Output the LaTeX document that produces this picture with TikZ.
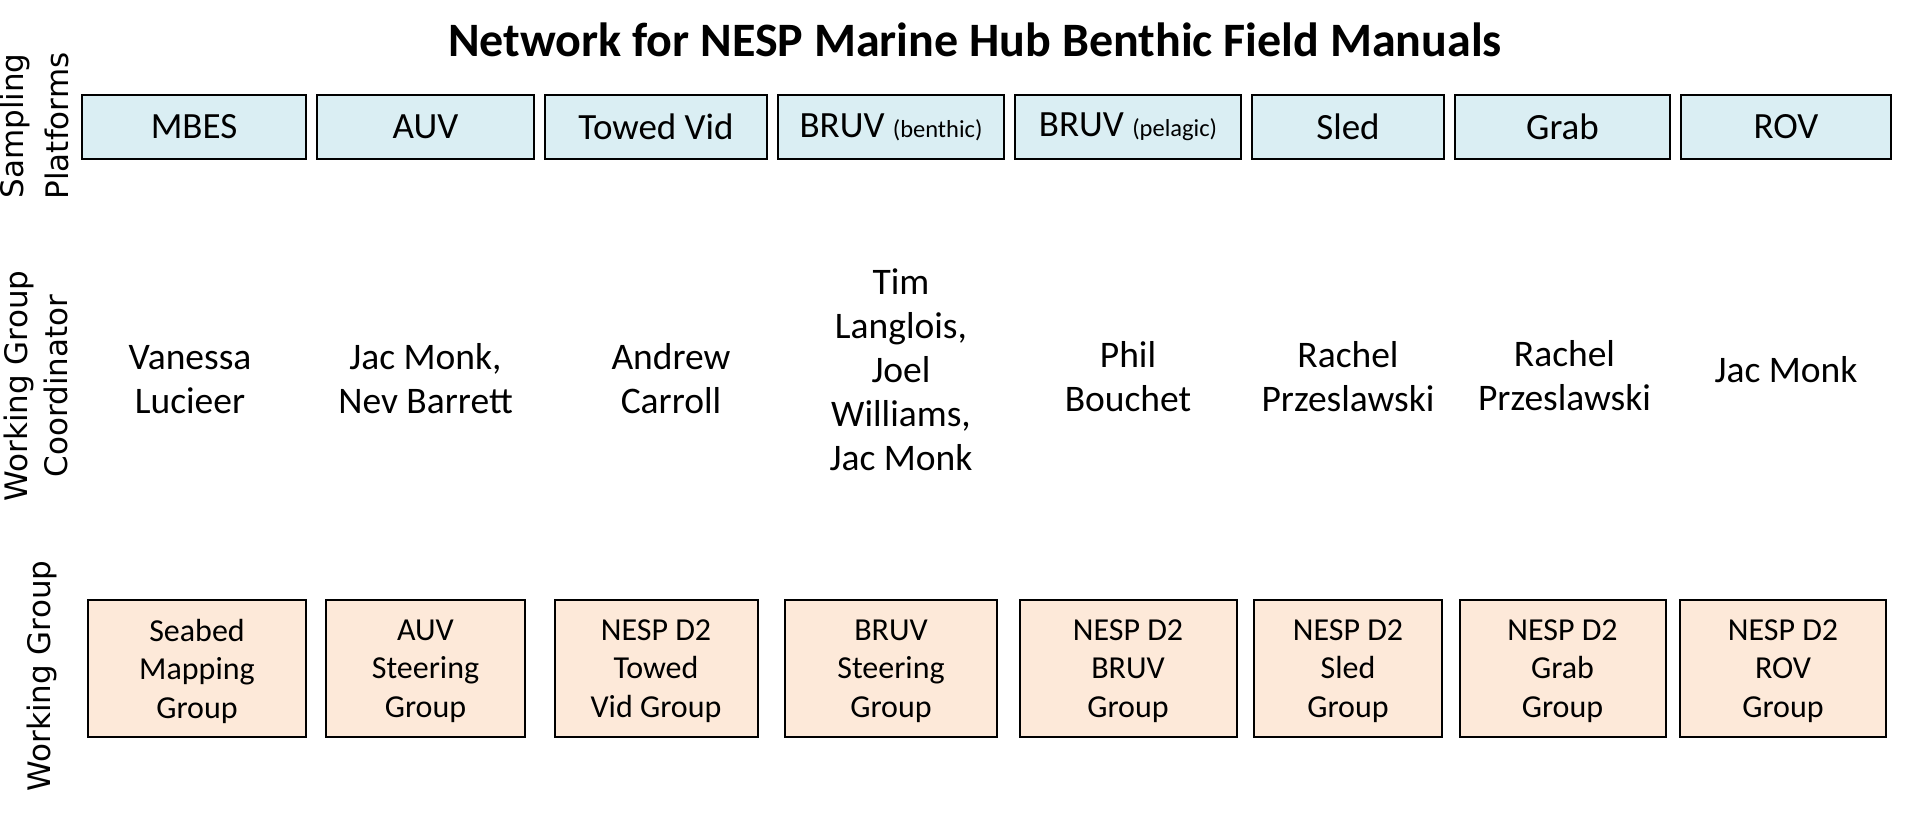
\documentclass[tikz,border=0pt]{standalone}
\usepackage{fontspec}
\setmainfont{Carlito}
\newfontfamily\sidefont{DejaVu Sans}
\usepackage{tikz}
\usetikzlibrary{positioning, calc}
\definecolor{platblue}{HTML}{DAEEF3}
\definecolor{grouppeach}{HTML}{FDE9D9}

\begin{document}
\begin{tikzpicture}[x=1pt, y=-1pt, node distance=11pt, outer sep=0pt]
% Define block styles
\tikzstyle{platform} = [rectangle, draw, line width=2pt, fill=platblue,
    minimum height=64pt, inner sep=0pt, font=\fontsize{37}{44}\selectfont]
\tikzstyle{group} = [rectangle, draw, line width=2pt, fill=grouppeach,
    minimum height=137pt, inner sep=0pt, align=center, text depth=0pt,
    font=\fontsize{32}{38.5}\selectfont]
\tikzstyle{person} = [align=center, inner sep=0pt,
    font=\fontsize{37.5}{44}\selectfont]
\tikzstyle{rowlabel} = [rotate=90, align=center, inner sep=0pt,
    font=\sidefont\fontsize{31}{43}\selectfont]
\useasboundingbox (0,0) rectangle (1912,837);
    % Title
    \node [anchor=base, font=\bfseries\fontsize{48}{56}\selectfont] (title)
        at (975,57) {Network for NESP Marine Hub Benthic Field Manuals};
    % Row labels
    \node [rowlabel, font=\sidefont\fontsize{31}{45}\selectfont] (platlabel)
        at (34,126) {Sampling\\Platforms};
    \node [rowlabel, font=\sidefont\fontsize{31}{40}\selectfont] (coordlabel)
        at (36,386) {Working Group\\Coordinator};
    \node [rowlabel] (grouplabel) at (42,676) {Working Group};
    % Place platform nodes
    \node [platform, minimum width=224pt] (mbes) at (194,127) {MBES};
    \node [platform, minimum width=217pt, right=of mbes] (auv) {AUV};
    \node [platform, minimum width=222pt, right=of auv] (towed) {Towed Vid};
    \node [platform, minimum width=226pt, right=of towed] (bruvb)
        {BRUV {\fontsize{24.5}{28}\selectfont(benthic)}};
    \node [platform, minimum width=226pt, right=of bruvb] (bruvp)
        {BRUV {\fontsize{24.5}{28}\selectfont(pelagic)}};
    \node [platform, minimum width=192pt, right=of bruvp] (sled) {Sled};
    \node [platform, minimum width=215pt, right=of sled] (grab) {Grab};
    \node [platform, minimum width=210pt, right=of grab] (rov) {ROV};
    % Coordinators
    \node [person] (lucieer) at ($(mbes)+(-4,253)$) {Vanessa\\Lucieer};
    \node [person] (monkbarrett) at ($(auv)+(0,252)$) {Jac Monk,\\Nev Barrett};
    \node [person] (carroll) at ($(towed)+(15,252)$) {Andrew\\Carroll};
    \node [person] (langlois) at ($(bruvb)+(10,243)$)
        {Tim\\Langlois,\\Joel\\Williams,\\Jac Monk};
    \node [person] (bouchet) at ($(bruvp)+(0,250)$) {Phil\\Bouchet};
    \node [person] (przsled) at ($(sled)+(0,250)$) {Rachel\\Przeslawski};
    \node [person] (przgrab) at ($(grab)+(2,249)$) {Rachel\\Przeslawski};
    \node [person] (monk) at ($(rov)+(0,243)$) {Jac Monk};
    % Working groups
    \node [group, minimum width=218pt, below=441pt of mbes, xshift=3pt] (seabedgrp)
        {Seabed\\Mapping\\Group};
    \node [group, minimum width=199pt, below=441pt of auv] (auvgrp)
        {AUV\\Steering\\Group};
    \node [group, minimum width=203pt, below=441pt of towed] (towedgrp)
        {NESP D2\\Towed\\Vid Group};
    \node [group, minimum width=212pt, below=441pt of bruvb] (bruvgrp)
        {BRUV\\Steering\\Group};
    \node [group, minimum width=217pt, below=441pt of bruvp] (nespbruv)
        {NESP D2\\BRUV\\Group};
    \node [group, minimum width=188pt, below=441pt of sled] (nespsled)
        {NESP D2\\Sled\\Group};
    \node [group, minimum width=206pt, below=441pt of grab] (nespgrab)
        {NESP D2\\Grab\\Group};
    \node [group, minimum width=206pt, below=441pt of rov, xshift=-3pt] (nesprov)
        {NESP D2\\ROV\\Group};
\end{tikzpicture}
\end{document}
